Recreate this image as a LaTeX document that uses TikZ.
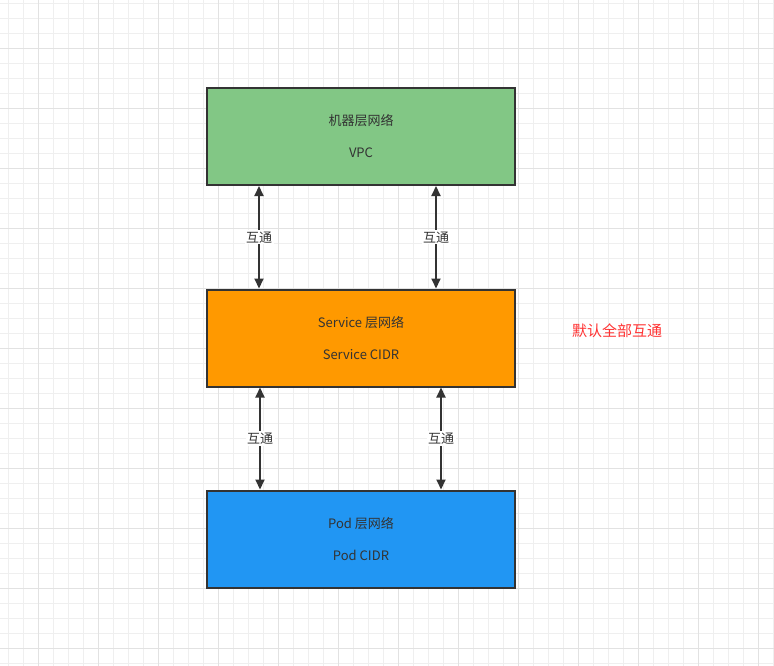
\documentclass[tikz,border=0pt]{standalone}
\usepackage{fontspec}
\setmainfont{Noto Sans CJK SC}
\usetikzlibrary{arrows.meta,positioning}

\definecolor{gridminor}{HTML}{EFEFEF}
\definecolor{gridmajor}{HTML}{E2E2E2}
\definecolor{vpcgreen}{HTML}{82C785}
\definecolor{svcorange}{HTML}{FF9900}
\definecolor{podblue}{HTML}{2196F3}
\definecolor{linegray}{HTML}{333333}
\definecolor{notered}{HTML}{FF3333}

\tikzset{
  layer/.style={draw=linegray, line width=2pt, minimum width=308pt, minimum height=97pt,
    align=center, text=linegray, font=\fontsize{13}{19}\selectfont},
  link/.style={draw=linegray, line width=2pt,
    {Triangle[length=10pt,width=9pt]}-{Triangle[length=10pt,width=9pt]}},
  linklabel/.style={fill=white, text=linegray, font=\fontsize{13}{15}\selectfont, inner sep=1.5pt}
}

\begin{document}
\begin{tikzpicture}[x=1pt,y=-1pt]
\useasboundingbox[fill=white] (0,0) rectangle (774,666);
% background grid
\foreach \k in {0,...,51} \draw[gridminor, line width=1pt] (8.3+15*\k,0) -- (8.3+15*\k,666);
\foreach \k in {0,...,44} \draw[gridminor, line width=1pt] (0,3.3+15*\k) -- (774,3.3+15*\k);
\foreach \k in {0,...,12} \draw[gridmajor, line width=1pt] (38.3+60*\k,0) -- (38.3+60*\k,666);
\foreach \k in {0,...,10} \draw[gridmajor, line width=1pt] (0,48.3+60*\k) -- (774,48.3+60*\k);

% layers
\node[layer, fill=vpcgreen] (vpc) at (361,136.5) {机器层网络\\[13pt]VPC};
\node[layer, fill=svcorange] (svc) at (361,338) {Service 层网络\\[13pt]Service CIDR};
\node[layer, fill=podblue] (pod) at (361,539) {Pod 层网络\\[13pt]Pod CIDR};

% links
\draw[link] ([xshift=53pt]vpc.south west) -- ([xshift=53pt]svc.north west)
  node[midway, linklabel] {互通};
\draw[link] ([xshift=230pt]vpc.south west) -- ([xshift=230pt]svc.north west)
  node[midway, linklabel] {互通};
\draw[link] ([xshift=54pt]svc.south west) -- ([xshift=54pt]pod.north west)
  node[midway, linklabel] {互通};
\draw[link] ([xshift=235pt]svc.south west) -- ([xshift=235pt]pod.north west)
  node[midway, linklabel] {互通};

\node[text=notered, font=\fontsize{15}{17}\selectfont] (note) at (617,331) {默认全部互通};
\end{tikzpicture}
\end{document}
